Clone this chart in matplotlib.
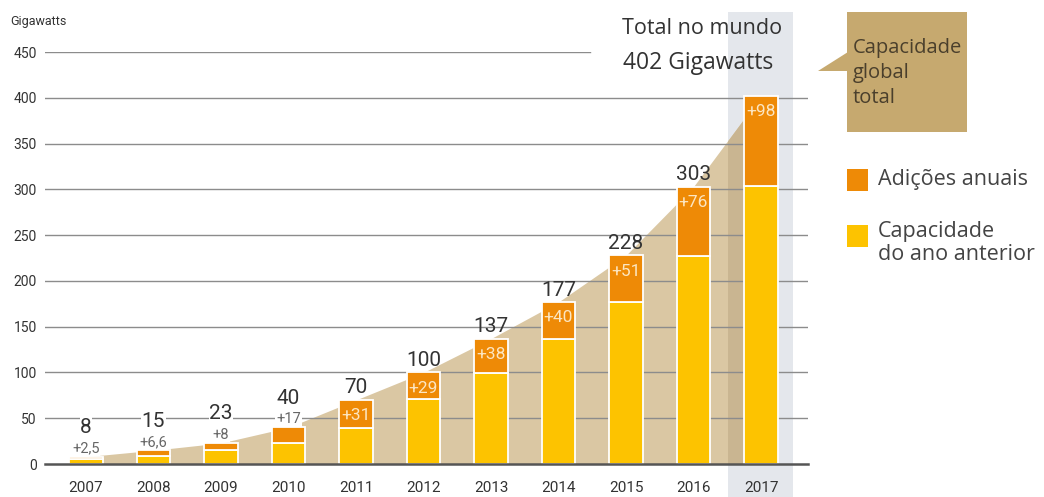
import matplotlib.pyplot as plt
import matplotlib.transforms as mtransforms
from matplotlib.patches import Rectangle, Polygon

# capacidade global (GW) por ano
anos = ["2007", "2008", "2009", "2010", "2011", "2012",
        "2013", "2014", "2015", "2016", "2017"]
total = [8, 15, 23, 40, 70, 100, 137, 177, 228, 303, 402]
adicoes = [2.5, 6.6, 8, 17, 31, 29, 38, 40, 51, 76, 98]
anterior = [t - a for t, a in zip(total, adicoes)]
rotulos_adicao = ["+" + f"{a:g}".replace(".", ",") for a in adicoes]

cor_laranja = "#EE8A06"
cor_amarelo = "#FDC300"
cor_bege = "#DAC7A3"
cor_bege_escuro = "#C9B591"
cor_faixa = "#E4E7EC"
cor_caixa = "#C6A96F"
cor_texto = "#333333"

W, H = 1044, 497
fig = plt.figure(figsize=(W / 100, H / 100), dpi=100)
ax = fig.add_axes([45 / W, 1 - 464 / H, (808 - 45) / W, (464 - 52) / H])
x = list(range(len(anos)))
ax.set_xlim(-0.607, 10.696)
ax.set_ylim(0, 450)

# faixa cinza de destaque do último ano
blend = mtransforms.blended_transform_factory(ax.transData, fig.transFigure)
faixa = Rectangle((x[-1] - 0.49, 0), 0.97, 1 - 12 / H, transform=blend,
                  facecolor=cor_faixa, edgecolor="none", zorder=0, clip_on=False)
ax.add_patch(faixa)

# área de crescimento por trás das barras
ax.fill_between(x, 0, total, color=cor_bege, lw=0, zorder=1)
escuro = ax.fill_between(x, 0, total, color=cor_bege_escuro, lw=0, zorder=1.1)
escuro.set_clip_path(faixa)

# linhas de grade
for v in range(50, 401, 50):
    ax.axhline(v, color="#8C8C8C", lw=1, zorder=2)
ax.axhline(450, xmax=(590 - 45) / (808 - 45), color="#8C8C8C", lw=1, zorder=2)
ax.axhline(0, color="#555555", lw=1.8, zorder=4, clip_on=False)

largura = 0.49
ax.bar(x, anterior, width=largura, color=cor_amarelo, edgecolor="white",
       lw=1.3, zorder=3)
ax.bar(x, adicoes, bottom=anterior, width=largura, color=cor_laranja,
       edgecolor="white", lw=1.3, zorder=3)

fonte_num = "Roboto"
fonte_txt = "Open Sans"
for i in x:
    if i < 4:
        ax.annotate(rotulos_adicao[i], (i, total[i]), xytext=(0, 6),
                    textcoords="offset points", ha="center", va="center",
                    fontsize=10.5, color="#666666", family=fonte_num, zorder=5,
                    bbox=dict(facecolor="white", edgecolor="none", pad=0.5))
        ax.annotate(str(total[i]), (i, total[i]), xytext=(0, 21),
                    textcoords="offset points", ha="center", va="center",
                    fontsize=15, color=cor_texto, family=fonte_num, zorder=5,
                    bbox=dict(facecolor="white", edgecolor="none", pad=0.5))
    else:
        ax.annotate(rotulos_adicao[i], (i, total[i]), xytext=(0, -11.5),
                    textcoords="offset points", ha="center", va="center",
                    fontsize=12.5, color="#FCE6C2", family=fonte_num, zorder=5)
        if i < len(x) - 1:
            ax.annotate(str(total[i]), (i, total[i]), xytext=(0, 8.6),
                        textcoords="offset points", ha="center", va="center",
                        fontsize=15, color=cor_texto, family=fonte_num, zorder=5)

ax.set_yticks(range(0, 451, 50))
ax.set_xticks(x)
ax.set_xticklabels(anos, family=fonte_num, fontsize=11, color=cor_texto)
ax.set_yticklabels([str(v) for v in range(0, 451, 50)], family=fonte_num,
                   fontsize=10, color=cor_texto)
ax.tick_params(axis="both", length=0)
ax.tick_params(axis="y", pad=6)
ax.tick_params(axis="x", pad=12)
for s in ax.spines.values():
    s.set_visible(False)

fig.text(10 / W, 1 - 21 / H, "Gigawatts", family=fonte_num, fontsize=9,
         color=cor_texto, va="center", ha="left")

# título do total
fig.text(702 / W, 1 - 28 / H, "Total no mundo", family=fonte_txt,
         fontsize=15.5, color=cor_texto, ha="center", va="center")
fig.text(698 / W, 1 - 63 / H, "402 Gigawatts", family=fonte_txt,
         fontsize=16.5, color=cor_texto, ha="center", va="center")

# balão explicativo
fig.patches.append(Rectangle((847 / W, 1 - 132 / H), 120 / W, 120 / H,
                             transform=fig.transFigure, facecolor=cor_caixa,
                             edgecolor="none"))
fig.patches.append(Polygon([(818 / W, 1 - 71 / H), (848 / W, 1 - 52 / H),
                            (848 / W, 1 - 71 / H)], closed=True,
                           transform=fig.transFigure, facecolor=cor_caixa,
                           edgecolor="none"))
fig.text(853 / W, 1 - 73 / H, "Capacidade\nglobal\ntotal", family=fonte_txt,
         fontsize=14.5, color="#4A3F2C", ha="left", va="center",
         linespacing=1.35)

# legenda
fig.patches.append(Rectangle((847 / W, 1 - 191 / H), 21 / W, 22 / H,
                             transform=fig.transFigure, facecolor=cor_laranja,
                             edgecolor="none"))
fig.patches.append(Rectangle((847 / W, 1 - 247 / H), 21 / W, 22 / H,
                             transform=fig.transFigure, facecolor=cor_amarelo,
                             edgecolor="none"))
fig.text(878 / W, 1 - 180 / H, "Adições anuais", family=fonte_txt,
         fontsize=15.5, color="#444444", ha="left", va="center")
fig.text(878 / W, 1 - 243 / H, "Capacidade\ndo ano anterior", family=fonte_txt,
         fontsize=15.5, color="#444444", ha="left", va="center",
         linespacing=1.1)

fig.savefig("out.png", dpi=100)
